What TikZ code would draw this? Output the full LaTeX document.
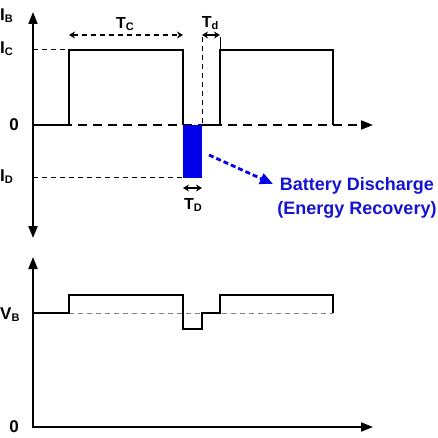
\documentclass[tikz,border=0pt]{standalone}
\usepackage{fontspec}
\setmainfont{Liberation Sans}
\usetikzlibrary{arrows.meta}

\definecolor{dischargeblue}{RGB}{0,0,235}
\definecolor{textblue}{RGB}{20,20,210}
\newcommand{\sublab}[2]{#1\raisebox{-0.12em}{\fontsize{11}{11}\selectfont #2}}

\tikzset{
  axis/.style={line width=1.8pt},
  tip/.style={-{Triangle[length=12pt,width=9pt]}},
  wave/.style={line width=2.8pt},
  guide/.style={line width=1pt,dash pattern=on 5pt off 4pt},
  span/.style={line width=1.1pt,{Stealth[length=6pt,width=7pt]}-{Stealth[length=6pt,width=7pt]}},
  lbl/.style={inner sep=0pt,font=\fontsize{17}{17}\selectfont\bfseries},
  tlbl/.style={inner sep=0pt,font=\fontsize{16}{16}\selectfont\bfseries},
}

\begin{document}
\begin{tikzpicture}[x=1pt,y=-1pt]
\useasboundingbox (0,0) rectangle (438,438);

% current plot
\node[lbl,anchor=west](ib) at (0,16){\sublab{I}{B}};
\node[lbl,anchor=west](ic) at (0,49){\sublab{I}{C}};
\node[lbl](zi) at (14,125){0};
\node[lbl,anchor=west](id) at (0,177){\sublab{I}{D}};

\draw[axis,{Triangle[length=12pt,width=9pt]}-{Triangle[length=12pt,width=9pt]}] (33,238) -- (33,12);
\draw[axis,tip,dash pattern=on 9pt off 6pt] (33,125) -- (373,125);
\draw[guide] (33,50) -- (69,50);
\draw[guide] (33,178) -- (183,178);
\draw[guide] (202,37) -- (202,125);
\draw[line width=1pt] (220,37) -- (220,50);

\fill[dischargeblue] (183,125) rectangle (202,178);
\draw[wave] (33,125) -- (69,125) -- (69,50) -- (183,50) -- (183,125);
\draw[wave] (202,125) -- (220,125) -- (220,50) -- (333,50) -- (333,125);

\coordinate (tc1) at (69,35);
\coordinate (tc2) at (183,35);
\coordinate (td1) at (202,35);
\coordinate (td2) at (220,35);
\coordinate (tr1) at (183,188);
\coordinate (tr2) at (202,188);
\draw[span,dash pattern=on 5pt off 4pt] (tc1) -- (tc2);
\draw[span] (td1) -- (td2);
\draw[span] (tr1) -- (tr2);
\node[tlbl](tc) at (125,24){\sublab{T}{C}};
\node[tlbl](td) at (210,23){\sublab{T}{d}};
\node[tlbl](tD) at (193,205){\sublab{T}{D}};

\coordinate (dis) at (209,155);
\coordinate (rec) at (273,184);
\draw[dischargeblue,line width=2.8pt,dash pattern=on 5pt off 3pt,-{Triangle[length=13pt,width=11pt]}] (dis) -- (rec);
\node[text=textblue,inner sep=0pt,align=center,font=\fontsize{18}{24}\selectfont\bfseries](note) at (357,198){Battery Discharge\\(Energy Recovery)};

% voltage plot
\node[lbl,anchor=west](vb) at (0,315){\sublab{V}{B}};
\node[lbl](zv) at (14,427){0};

\draw[axis,tip] (33,428) -- (33,257);
\draw[axis,tip] (32.1,427) -- (373,427);
\draw[guide,gray] (69,313) -- (333,313);
\draw[wave] (33,313) -- (69,313) -- (69,295) -- (183,295) -- (183,329) -- (202,329)
  -- (202,313) -- (220,313) -- (220,295) -- (333,295) -- (333,313);
\end{tikzpicture}
\end{document}
